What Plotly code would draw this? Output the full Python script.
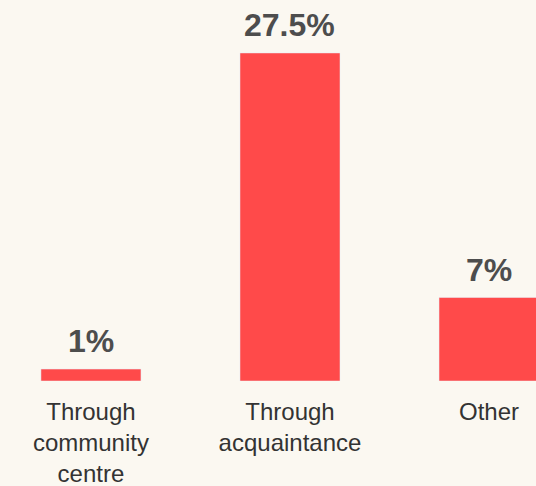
import plotly.graph_objects as go

categories = ["Through<br>community<br>centre", "Through<br>acquaintance", "Other"]
values = [1, 27.5, 7]
value_labels = ["1%", "27.5%", "7%"]

BAR_COLOR = "#FF4A4A"
BG_COLOR = "#FBF8F1"

fig = go.Figure(go.Bar(
    x=categories,
    y=values,
    width=0.5025,
    marker_color=BAR_COLOR,
    hoverinfo="skip",
))

for cat, val, lab in zip(categories, values, value_labels):
    fig.add_annotation(
        x=cat, y=val, text="<b>" + lab + "</b>",
        showarrow=False, yanchor="bottom", yshift=8,
        font=dict(size=32, color="#4D4D4D", family="Liberation Sans"),
    )

fig.update_layout(
    width=536,
    height=486,
    margin=dict(l=0, r=0, t=0, b=105),
    paper_bgcolor=BG_COLOR,
    plot_bgcolor=BG_COLOR,
    font=dict(family="Liberation Sans", color="#333333"),
    showlegend=False,
    bargap=0,
)

fig.update_xaxes(
    type="category",
    range=[-0.457, 2.236],
    showgrid=False, zeroline=False, showline=False,
    ticks="", ticklabelstandoff=14,
    tickfont=dict(size=24, color="#333333"),
)
fig.update_yaxes(
    range=[0, 31.94],
    visible=False,
)

# drop the default page margin so the figure fills the window
fig.write_html(
    "out.html",
    config={"displayModeBar": False, "staticPlot": True},
    post_script="document.body.style.margin='0';document.body.style.background='" + BG_COLOR + "';",
)
